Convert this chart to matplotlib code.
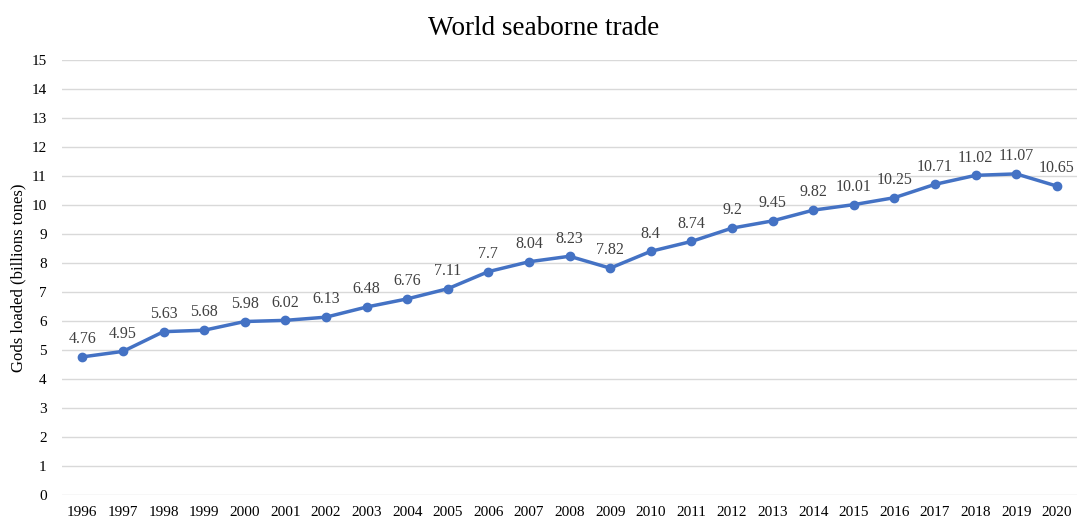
import matplotlib.pyplot as plt

years = [str(y) for y in range(1996, 2021)]
loaded = [4.76, 4.95, 5.63, 5.68, 5.98, 6.02, 6.13, 6.48, 6.76, 7.11, 7.7, 8.04,
          8.23, 7.82, 8.4, 8.74, 9.2, 9.45, 9.82, 10.01, 10.25, 10.71, 11.02, 11.07, 10.65]

plt.rcParams['font.family'] = ['Liberation Serif', 'DejaVu Serif']

fig = plt.figure(figsize=(10.88, 5.21), dpi=100)
ax = fig.add_axes([0.057, 0.05, 0.933, 0.835])

x = list(range(len(years)))
ax.plot(x, loaded, color='#4472C4', linewidth=2.5, marker='o', markersize=6, zorder=3)
for xi, v in zip(x, loaded):
    ax.annotate(f'{v:g}', (xi, v), xytext=(0, 7), textcoords='offset points',
                ha='center', va='bottom', fontsize=11.5, color='#404040')

ax.set_xlim(-0.5, len(years) - 0.5)
ax.set_ylim(0, 15)
ax.set_yticks(range(0, 16))
ax.set_xticks(x)
ax.set_xticklabels(years)
ax.tick_params(axis='both', length=0, labelsize=11, colors='black')
ax.tick_params(axis='y', pad=11)
ax.tick_params(axis='x', pad=8)
ax.grid(axis='y', color='#d9d9d9', linewidth=1)
ax.set_axisbelow(True)
for s in ax.spines.values():
    s.set_visible(False)

ax.set_ylabel('Gods loaded (billions tones)', fontsize=12, labelpad=4)
fig.suptitle('World seaborne trade', fontsize=19.5, y=0.97)

fig.savefig('out.png')
